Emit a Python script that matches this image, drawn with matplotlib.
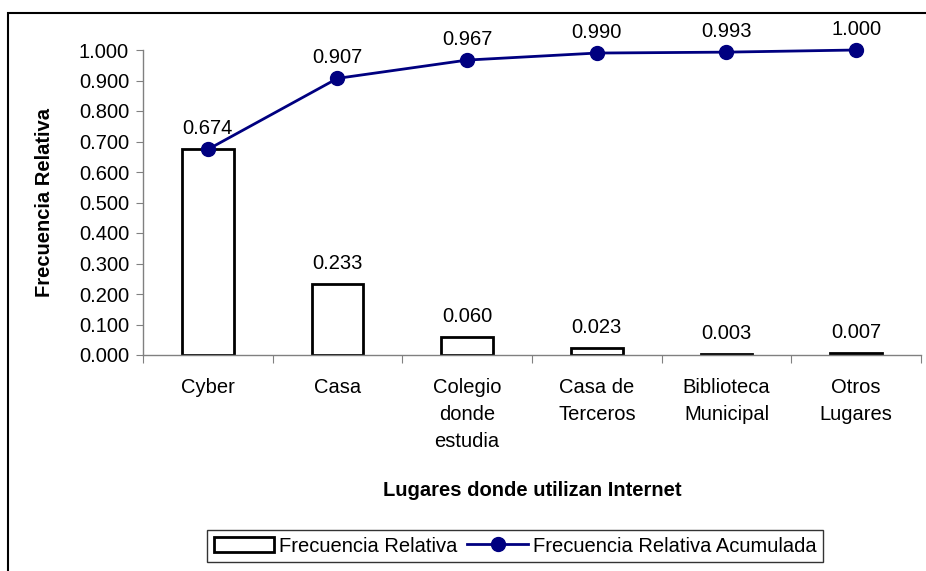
import matplotlib.pyplot as plt
from matplotlib.patches import Rectangle
from matplotlib.lines import Line2D
import numpy as np

plt.rcParams["font.family"] = ["Liberation Sans", "DejaVu Sans"]

categories = ["Cyber", "Casa", "Colegio\ndonde\nestudia", "Casa de\nTerceros",
              "Biblioteca\nMunicipal", "Otros\nLugares"]
freq_rel = [0.674, 0.233, 0.060, 0.023, 0.003, 0.007]
freq_acum = [0.674, 0.907, 0.967, 0.990, 0.993, 1.000]
yticks = [0.0, 0.1, 0.2, 0.3, 0.4, 0.5, 0.6, 0.7, 0.8, 0.9, 1.0]

FS = 14.5
W, H = 926, 571
fig = plt.figure(figsize=(W / 100, H / 100), dpi=100)
ax = fig.add_axes([143 / W, 1 - 355 / H, (921 - 143) / W, (355 - 50) / H])

# outer chart frame (cropped on right/bottom)
fig.patches.append(Rectangle((8 / W, -0.1), 1.2, 1 - 13 / H + 0.1,
                             transform=fig.transFigure, fill=False,
                             edgecolor="black", linewidth=1.5))

x = np.arange(len(categories))
navy = "#000080"

ax.bar(x, freq_rel, width=0.4, facecolor="white", edgecolor="black",
       linewidth=2, zorder=2)
ax.plot(x, freq_acum, color=navy, linewidth=2, marker="o", markersize=10,
        clip_on=False, zorder=3)

for xi, v in zip(x, freq_rel):
    ax.annotate(f"{v:.3f}", (xi, v), xytext=(0, 8), textcoords="offset points",
                ha="center", va="bottom", fontsize=FS)
for xi, v, b in zip(x, freq_acum, freq_rel):
    if v == b:
        continue
    ax.annotate(f"{v:.3f}", (xi, v), xytext=(0, 8), textcoords="offset points",
                ha="center", va="bottom", fontsize=FS)

ax.set_xlim(-0.5, len(categories) - 0.5)
ax.set_ylim(0, 1.0)
ax.set_yticks(yticks)
ax.set_yticklabels([f"{t:.3f}" for t in yticks], fontsize=FS)
ax.set_xticks(np.arange(len(categories) + 1) - 0.5)
ax.set_xticklabels([])
ax.set_xticks(x, minor=True)
ax.set_xticklabels(categories, minor=True, fontsize=FS, linespacing=1.55, va="top")
ax.tick_params(axis="x", which="minor", length=0, pad=16.5)
ax.tick_params(axis="x", which="major", length=6, color="#808080", direction="out")
ax.tick_params(axis="y", length=5, color="#808080", direction="out", pad=5)

for s in ("top", "right"):
    ax.spines[s].set_visible(False)
for s in ("left", "bottom"):
    ax.spines[s].set_color("#808080")
    ax.spines[s].set_linewidth(1)

ax.set_ylabel("Frecuencia Relativa", fontsize=FS, fontweight="bold", labelpad=18)
fig.text(532 / W, 1 - 490 / H, "Lugares donde utilizan Internet", fontsize=FS,
         fontweight="bold", ha="center", va="center")

handles = [Rectangle((0, 0), 1, 1, facecolor="white", edgecolor="black", linewidth=2),
           Line2D([], [], color=navy, linewidth=2, marker="o", markersize=10)]
leg = fig.legend(handles, ["Frecuencia Relativa", "Frecuencia Relativa Acumulada"],
                 loc="center", bbox_to_anchor=(515 / W, 1 - 546 / H), ncol=2,
                 fontsize=FS, frameon=True, fancybox=False, handlelength=3.0,
                 handletextpad=0.25, columnspacing=0.5, borderpad=0.3)
leg.get_frame().set_edgecolor("black")
leg.get_frame().set_linewidth(1)

fig.savefig("out.png", dpi=100)
